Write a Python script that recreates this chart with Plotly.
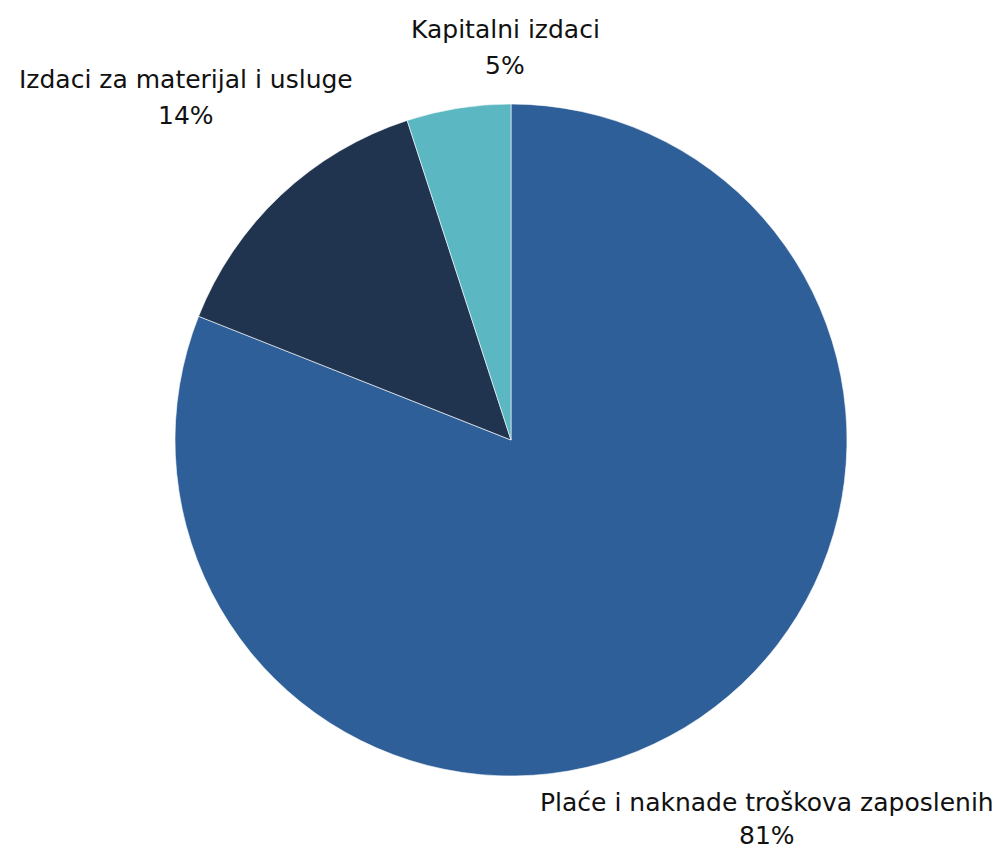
import plotly.graph_objects as go

labels = ["Plaće i naknade troškova zaposlenih", "Izdaci za materijal i usluge", "Kapitalni izdaci"]
values = [81, 14, 5]
colors = ["#2E5F98", "#20344F", "#5BB7C2"]

# label anchor positions in screen pixels (centre x, first line y, second line y)
label_pos = [(767, 802, 835), (186, 79, 115), (505, 29, 65)]

OFF = 8  # page body margin
W, H = 1000, 842
ml, mt = 175 - OFF, 104 - OFF
pw = ph = 672
mr, mb = W - ml - pw, H - mt - ph

fig = go.Figure(go.Pie(
    labels=labels,
    values=values,
    marker=dict(colors=colors, line=dict(color="white", width=0.6)),
    sort=False,
    direction="clockwise",
    rotation=0,
    textinfo="none",
    hoverinfo="label+percent",
    showlegend=False,
))

total = sum(values)
font = dict(family="DejaVu Sans, sans-serif", size=25, color="#111111")
for lab, v, (cx, y1, y2) in zip(labels, values, label_pos):
    for txt, yy in ((lab, y1), (f"{round(100 * v / total)}%", y2)):
        fig.add_annotation(
            x=(cx - OFF - ml) / pw, y=(mt + ph - (yy - OFF)) / ph,
            xref="paper", yref="paper", text=txt, showarrow=False,
            xanchor="center", yanchor="middle", font=font,
        )

fig.update_layout(
    width=W, height=H,
    margin=dict(l=ml, r=mr, t=mt, b=mb),
    paper_bgcolor="white", plot_bgcolor="white",
)

fig.write_html("out.html")
